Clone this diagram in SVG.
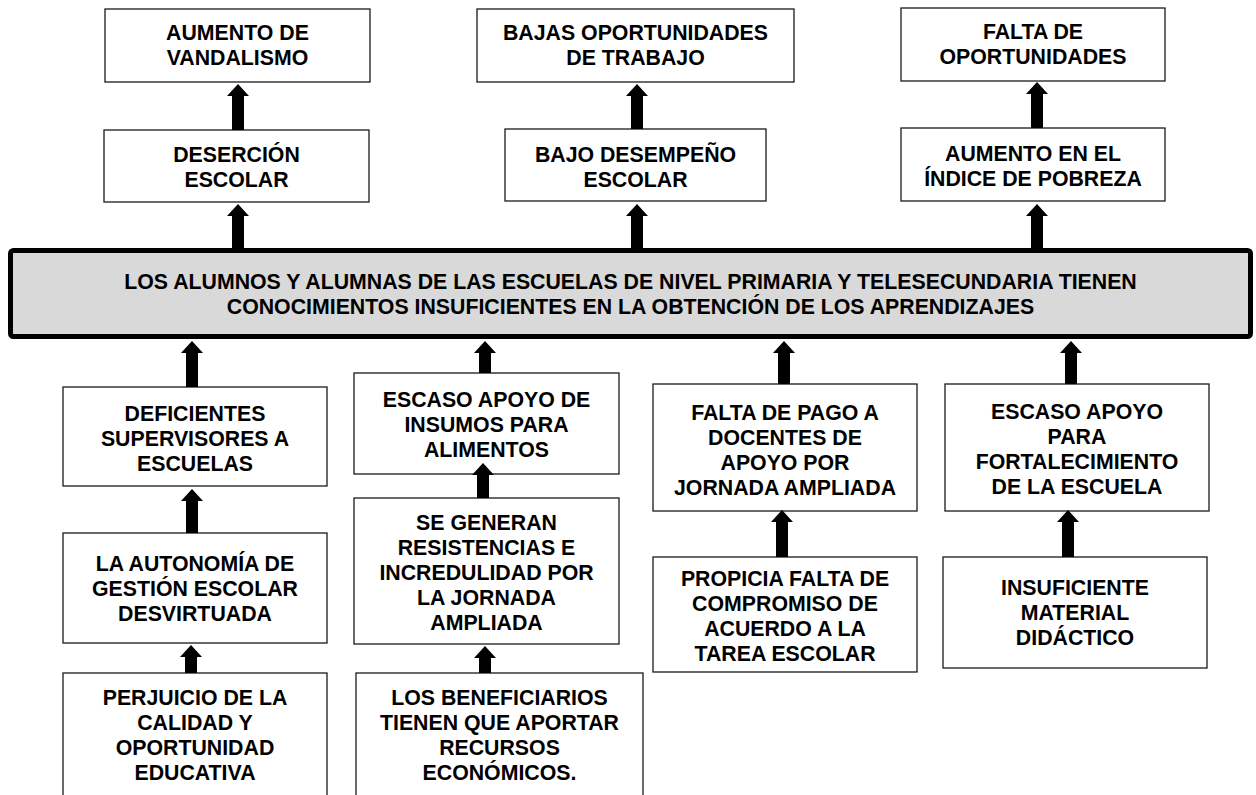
<svg xmlns="http://www.w3.org/2000/svg" width="1256" height="795" viewBox="0 0 1256 795">
<defs>
<style>
.box{fill:#ffffff;stroke:#1a1a1a;stroke-width:1.3}
.main{fill:#d9d9d9;stroke:#000000;stroke-width:5}
text{font-family:"Liberation Sans",Arial,sans-serif;font-weight:bold;font-size:21.3px;fill:#000000;text-anchor:middle}
.arr{stroke:#000000;stroke-width:12;fill:none;marker-end:url(#head)}
</style>
<marker id="head" viewBox="0 0 12 22" markerWidth="12" markerHeight="22" refX="1" refY="11" orient="auto" markerUnits="userSpaceOnUse">
<path d="M0,0 L12,11 L0,22 Z" fill="#000000"/>
</marker>
</defs>
<rect width="1256" height="795" fill="#ffffff"/>

<g id="n-aumento-vandalismo">
<rect class="box" x="105" y="9" width="265" height="73"/>
<text x="237.5" y="39.5">AUMENTO DE</text>
<text x="237.5" y="64.5">VANDALISMO</text>
</g>
<g id="n-bajas-oportunidades">
<rect class="box" x="477" y="9" width="317" height="73"/>
<text x="635.5" y="39.5">BAJAS OPORTUNIDADES</text>
<text x="635.5" y="64.5">DE TRABAJO</text>
</g>
<g id="n-falta-oportunidades">
<rect class="box" x="901" y="8" width="264" height="73"/>
<text x="1033" y="38.5">FALTA DE</text>
<text x="1033" y="63.5">OPORTUNIDADES</text>
</g>
<g id="n-desercion">
<rect class="box" x="104" y="130" width="265" height="72"/>
<text x="236.5" y="161.5">DESERCIÓN</text>
<text x="236.5" y="186.5">ESCOLAR</text>
</g>
<g id="n-bajo-desempeno">
<rect class="box" x="505" y="129" width="261" height="72"/>
<text x="635.5" y="161.5">BAJO DESEMPEÑO</text>
<text x="635.5" y="186.5">ESCOLAR</text>
</g>
<g id="n-aumento-pobreza">
<rect class="box" x="901" y="128" width="264" height="73"/>
<text x="1033" y="160.5">AUMENTO EN EL</text>
<text x="1033" y="185.5">ÍNDICE DE POBREZA</text>
</g>

<g id="n-problema-central">
<rect class="main" x="10.5" y="250.5" width="1240" height="86" rx="3"/>
<text x="630.5" y="288.5">LOS ALUMNOS Y ALUMNAS DE LAS ESCUELAS DE NIVEL PRIMARIA Y TELESECUNDARIA TIENEN</text>
<text x="630.5" y="314">CONOCIMIENTOS INSUFICIENTES EN LA OBTENCIÓN DE LOS APRENDIZAJES</text>
</g>

<g id="n-deficientes">
<rect class="box" x="63" y="387" width="264" height="99"/>
<text x="195" y="420.5">DEFICIENTES</text>
<text x="195" y="445.5">SUPERVISORES A</text>
<text x="195" y="470.5">ESCUELAS</text>
</g>
<g id="n-autonomia">
<rect class="box" x="63" y="533" width="264" height="110"/>
<text x="195" y="570.5">LA AUTONOMÍA DE</text>
<text x="195" y="595.5">GESTIÓN ESCOLAR</text>
<text x="195" y="620.5">DESVIRTUADA</text>
</g>
<g id="n-perjuicio">
<rect class="box" x="63" y="673" width="264" height="140"/>
<text x="195" y="705">PERJUICIO DE LA</text>
<text x="195" y="730">CALIDAD Y</text>
<text x="195" y="755">OPORTUNIDAD</text>
<text x="195" y="780">EDUCATIVA</text>
</g>

<g id="n-insumos">
<rect class="box" x="354" y="373" width="265" height="101"/>
<text x="486.5" y="407">ESCASO APOYO DE</text>
<text x="486.5" y="432">INSUMOS PARA</text>
<text x="486.5" y="457">ALIMENTOS</text>
</g>
<g id="n-resistencias">
<rect class="box" x="354" y="498" width="265" height="146"/>
<text x="486.5" y="530">SE GENERAN</text>
<text x="486.5" y="555">RESISTENCIAS E</text>
<text x="486.5" y="580">INCREDULIDAD POR</text>
<text x="486.5" y="605">LA JORNADA</text>
<text x="486.5" y="630">AMPLIADA</text>
</g>
<g id="n-beneficiarios">
<rect class="box" x="356" y="673" width="287" height="140"/>
<text x="499.5" y="705">LOS BENEFICIARIOS</text>
<text x="499.5" y="730">TIENEN QUE APORTAR</text>
<text x="499.5" y="755">RECURSOS</text>
<text x="499.5" y="780">ECONÓMICOS.</text>
</g>

<g id="n-falta-pago">
<rect class="box" x="653" y="384" width="264" height="127"/>
<text x="785" y="419.5">FALTA DE PAGO A</text>
<text x="785" y="444.5">DOCENTES DE</text>
<text x="785" y="469.5">APOYO POR</text>
<text x="785" y="494.5">JORNADA AMPLIADA</text>
</g>
<g id="n-propicia">
<rect class="box" x="653" y="557" width="264" height="115"/>
<text x="785" y="585.5">PROPICIA FALTA DE</text>
<text x="785" y="610.5">COMPROMISO DE</text>
<text x="785" y="635.5">ACUERDO A LA</text>
<text x="785" y="660.5">TAREA ESCOLAR</text>
</g>

<g id="n-fortalecimiento">
<rect class="box" x="945" y="384" width="264" height="127"/>
<text x="1077" y="418.5">ESCASO APOYO</text>
<text x="1077" y="443.5">PARA</text>
<text x="1077" y="468.5">FORTALECIMIENTO</text>
<text x="1077" y="493.5">DE LA ESCUELA</text>
</g>
<g id="n-material">
<rect class="box" x="943" y="557" width="264" height="111"/>
<text x="1075" y="595">INSUFICIENTE</text>
<text x="1075" y="620">MATERIAL</text>
<text x="1075" y="645">DIDÁCTICO</text>
</g>

<g id="connectors">
<line class="arr" x1="238" y1="248" x2="238" y2="215"/>
<line class="arr" x1="238" y1="130" x2="238" y2="95"/>
<line class="arr" x1="637" y1="248" x2="637" y2="215"/>
<line class="arr" x1="637" y1="129" x2="637" y2="95"/>
<line class="arr" x1="1037" y1="248" x2="1037" y2="215"/>
<line class="arr" x1="1037" y1="128" x2="1037" y2="93"/>
<line class="arr" x1="192" y1="387" x2="192" y2="352"/>
<line class="arr" x1="485" y1="373" x2="485" y2="352"/>
<line class="arr" x1="784" y1="384" x2="784" y2="352"/>
<line class="arr" x1="1071" y1="384" x2="1071" y2="352"/>
<line class="arr" x1="192" y1="533" x2="192" y2="500"/>
<line class="arr" x1="191" y1="673" x2="191" y2="656"/>
<line class="arr" x1="483" y1="498" x2="483" y2="474"/>
<line class="arr" x1="485" y1="673" x2="485" y2="657"/>
<line class="arr" x1="782" y1="557" x2="782" y2="521"/>
<line class="arr" x1="1068" y1="557" x2="1068" y2="521"/>
</g>
</svg>
